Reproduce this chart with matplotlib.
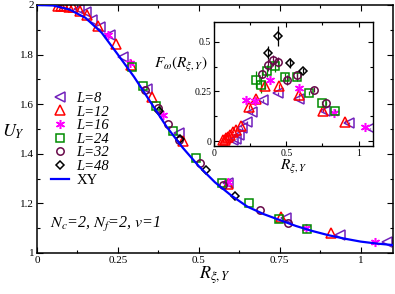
import matplotlib
matplotlib.use("Agg")
import matplotlib.pyplot as plt
import numpy as np

plt.rcParams.update({
    "font.family": ["Liberation Serif", "DejaVu Serif"],
    "mathtext.fontset": "stix",
    "xtick.direction": "in", "ytick.direction": "in",
    "xtick.top": True, "ytick.right": True,
})

# ---- data ----
# L=8 (indigo left triangles)
r8 = [0.13, 0.15, 0.17, 0.195, 0.225, 0.265, 0.34, 0.44, 0.59, 0.77, 0.935, 1.08]
u8 = [1.982, 1.97, 1.94, 1.913, 1.88, 1.79, 1.66, 1.485, 1.281, 1.14, 1.073, 1.046]
f8 = [0.005, 0.012, 0.03, 0.064, 0.094, 0.145, 0.205, 0.24, 0.21, 0.15, 0.09, 0.064]
e8 = [0.003, 0.004, 0.005, 0.006, 0.006, 0.008, 0.008, 0.008, 0.006, 0.006, 0.005, 0.004]
# L=12 (red triangles)
r12 = [0.065, 0.075, 0.083, 0.10, 0.111, 0.134, 0.153, 0.19, 0.245, 0.29, 0.354, 0.452, 0.59, 0.755, 0.908]
u12 = [1.995, 1.995, 1.996, 1.993, 1.991, 1.975, 1.96, 1.915, 1.843, 1.76, 1.63, 1.453, 1.277, 1.144, 1.079]
f12 = [0.003, 0.006, 0.013, 0.022, 0.03, 0.047, 0.058, 0.078, 0.172, 0.21, 0.276, 0.276, 0.234, 0.153, 0.098]
e12 = [0.003, 0.003, 0.004, 0.004, 0.005, 0.006, 0.006, 0.008, 0.01, 0.012, 0.012, 0.012, 0.01, 0.008, 0.006]
# L=16 (magenta stars)
r16 = [0.22, 0.287, 0.39, 0.59, 0.83, 1.045]
u16 = [1.879, 1.765, 1.556, 1.285, 1.102, 1.046]
f16 = [0.205, 0.20, 0.31, 0.265, 0.14, 0.069]
e16 = [0.02, 0.02, 0.02, 0.015, 0.01, 0.008]
# L=24 (green squares)
r24 = [0.292, 0.328, 0.369, 0.42, 0.49, 0.572, 0.655, 0.748, 0.835]
u24 = [1.748, 1.673, 1.593, 1.492, 1.382, 1.284, 1.203, 1.137, 1.096]
f24 = [0.31, 0.283, 0.355, 0.376, 0.322, 0.322, 0.24, 0.19, 0.153]
e24 = [0.045, 0.04, 0.03, 0.03, 0.02, 0.02, 0.01, 0.01, 0.008]
# L=32 (maroon circles)
r32 = [0.333, 0.373, 0.405, 0.44, 0.505, 0.575, 0.69, 0.775]
u32 = [1.657, 1.585, 1.52, 1.456, 1.362, 1.274, 1.173, 1.12]
f32 = [0.338, 0.384, 0.406, 0.40, 0.308, 0.333, 0.258, 0.193]
e32 = [0.02, 0.03, 0.03, 0.025, 0.025, 0.02, 0.012, 0.01]
# L=48 (black diamonds)
r48 = [0.377, 0.441, 0.523, 0.613]
u48 = [1.574, 1.458, 1.333, 1.231]
f48 = [0.446, 0.53, 0.392, 0.355]
e48 = [0.035, 0.05, 0.025, 0.012]
# XY curve
rxy = [0, 0.05, 0.1, 0.15, 0.2, 0.25, 0.3, 0.35, 0.4, 0.45, 0.5, 0.55, 0.6,
       0.65, 0.7, 0.75, 0.8, 0.85, 0.9, 0.95, 1.0, 1.05, 1.1]
uxy = [2.0, 1.998, 1.982, 1.948, 1.888, 1.80, 1.71, 1.61, 1.51, 1.425, 1.35, 1.285, 1.232,
       1.187, 1.157, 1.133, 1.109, 1.089, 1.072, 1.058, 1.046, 1.038, 1.032]

series = [
    ("L=8", r8, u8, f8, e8, "#7221bc", "<", 6.5),
    ("L=12", r12, u12, f12, e12, "#ff0000", "^", 6.5),
    ("L=16", r16, u16, f16, e16, "#ff00ff", (6, 2, 0), 6.5),
    ("L=24", r24, u24, f24, e24, "#008b00", "s", 5.3),
    ("L=32", r32, u32, f32, e32, "#670748", "o", 5.3),
    ("L=48", r48, u48, f48, e48, "#000000", "D", 4.0),
]

fig = plt.figure(figsize=(3.95, 2.94), dpi=100)
ax = fig.add_axes([37 / 395, 1 - 253 / 294, 356 / 395, 248 / 294])

for lab, r, u, f, e, c, m, ms in series:
    ax.plot(r, u, ls="none", marker=m, ms=ms, mfc="none", mec=c, mew=1.1, label=lab)
ax.plot(rxy, uxy, color="#0000ff", lw=1.6, label="XY", zorder=5)

ax.set_xlim(0, 1.1)
ax.set_ylim(1, 2)
ax.set_xticks([0, 0.25, 0.5, 0.75, 1])
ax.set_xticklabels(["0", "0.25", "0.5", "0.75", "1"])
ax.set_xticks(np.arange(0.125, 1.1, 0.25), minor=True)
ax.set_yticks([1, 1.2, 1.4, 1.6, 1.8, 2])
ax.set_yticklabels(["1", "1.2", "1.4", "1.6", "1.8", "2"])
ax.set_yticks(np.arange(1.1, 2.0, 0.2), minor=True)
ax.tick_params(which="major", length=4, width=0.8, labelsize=8, pad=2)
ax.tick_params(which="minor", length=2.5, width=0.8)
for s in ax.spines.values():
    s.set_linewidth(1.1)
ax.set_xlabel(r"$R_{\xi,Y}$", fontsize=13, labelpad=0)
ax.set_ylabel(r"$U_Y$", fontsize=13, rotation=0, va="center", ha="center")
ax.yaxis.set_label_coords(-0.066, 0.49)
ax.text(0.037, 0.113, r"$N_c$=2, $N_f$=2, $v$=1", transform=ax.transAxes,
        fontsize=11.5, style="italic", va="center")

leg = ax.legend(loc="upper left", bbox_to_anchor=(0.02, 0.68), frameon=False,
                prop={"style": "italic", "size": 10.5}, handlelength=1.2,
                handletextpad=0.5, labelspacing=0.03, borderpad=0)
leg.get_texts()[-1].set_fontstyle("normal")

# ---- inset ----
ins = fig.add_axes([214 / 395, 1 - 146 / 294, 159 / 395, 124 / 294])
for lab, r, u, f, e, c, m, ms in series:
    ins.errorbar(r, f, yerr=e, ls="none", marker=m, ms=ms, mfc="none", mec=c,
                 mew=1.1, ecolor=c, elinewidth=0.9, capsize=0)
ins.set_xlim(0, 1.1)
ins.set_ylim(-0.025, 0.6)
ins.set_xticks([0, 0.5, 1])
ins.set_xticklabels(["0", "0.5", "1"])
ins.set_xticks([0.25, 0.75], minor=True)
ins.set_yticks([0, 0.25, 0.5])
ins.set_yticklabels(["0", "0.25", "0.5"])
ins.set_yticks([0.125, 0.375], minor=True)
ins.tick_params(which="major", length=3.5, width=0.8, labelsize=7, pad=2)
ins.tick_params(which="minor", length=2, width=0.8)
for s in ins.spines.values():
    s.set_linewidth(1.0)
ins.set_xlabel(r"$R_{\xi,Y}$", fontsize=11, labelpad=0)
ins.text(-0.38, 0.66, r"$F_\omega(R_{\xi,Y})$", transform=ins.transAxes,
         fontsize=11, va="center")

fig.savefig("out.png", dpi=100)
